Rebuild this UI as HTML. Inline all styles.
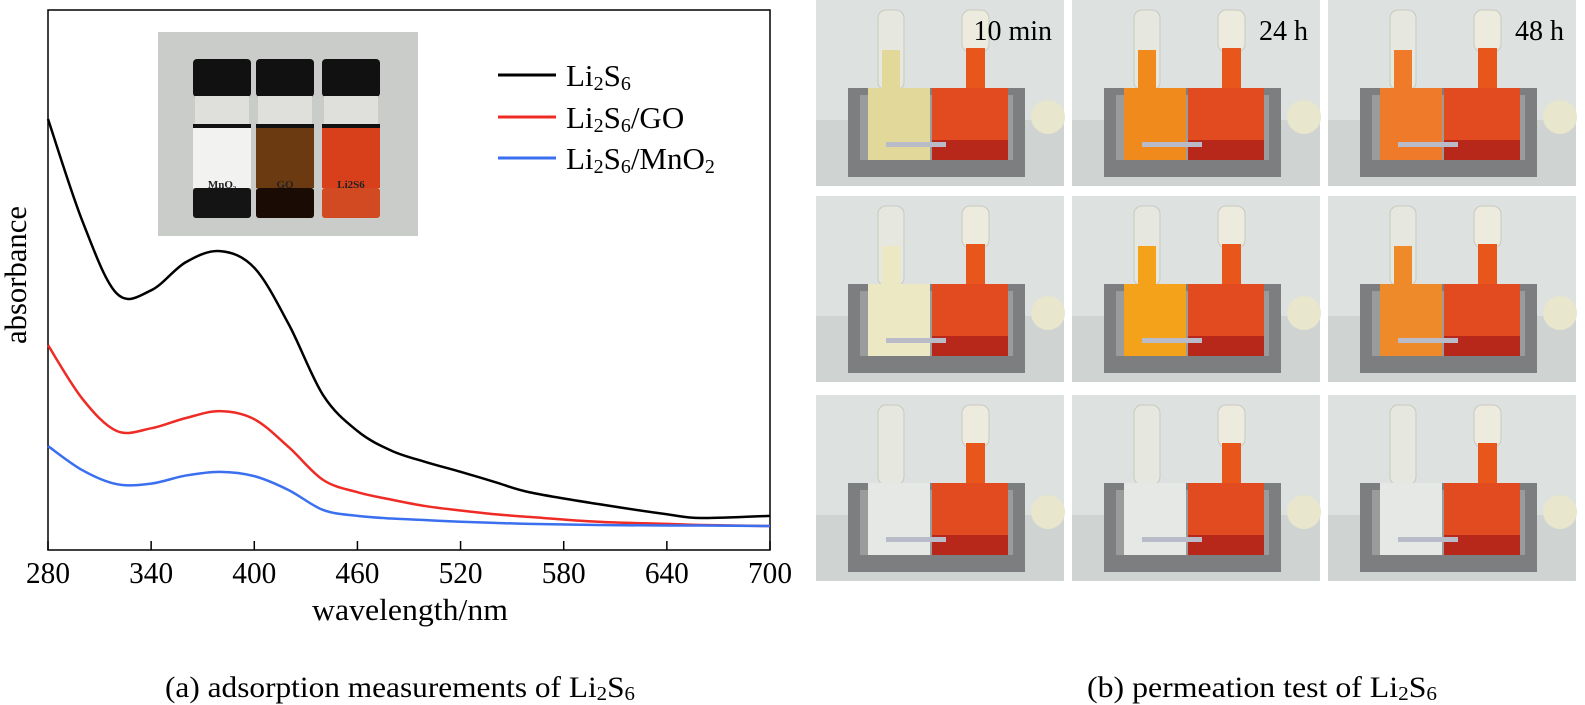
<!DOCTYPE html>
<html><head><meta charset="utf-8"><style>
html,body{margin:0;padding:0;background:#fff;}
svg{display:block;font-family:"Liberation Serif",serif;}
</style></head><body>
<svg id="root" width="1585" height="705" viewBox="0 0 1585 705" xmlns="http://www.w3.org/2000/svg">
  <g id="chart"></g>
  <g id="photos"></g>
  <text x="400" y="697" font-size="30" text-anchor="middle" textLength="470" lengthAdjust="spacingAndGlyphs">(a) adsorption measurements of Li<tspan font-size="20" dy="3">2</tspan><tspan dy="-3">S</tspan><tspan font-size="20" dy="3">6</tspan></text>
  <text x="1262" y="697" font-size="30" text-anchor="middle" textLength="350" lengthAdjust="spacingAndGlyphs">(b) permeation test of Li<tspan font-size="20" dy="3">2</tspan><tspan dy="-3">S</tspan><tspan font-size="20" dy="3">6</tspan></text>
</svg>
<script>
const wavelengths=[280,300,320,340,360,380,400,420,440,460,480,500,520,540,560,600,640,660,700];
const blackVals=[0.797,0.607,0.472,0.478,0.530,0.551,0.520,0.415,0.283,0.216,0.179,0.158,0.140,0.121,0.102,0.080,0.061,0.054,0.058];
const redVals=[0.376,0.276,0.216,0.221,0.240,0.253,0.238,0.186,0.125,0.102,0.088,0.076,0.068,0.061,0.056,0.047,0.043,0.041,0.039];
const blueVals=[0.188,0.143,0.117,0.118,0.133,0.140,0.132,0.106,0.069,0.058,0.053,0.050,0.047,0.045,0.043,0.041,0.040,0.040,0.039];
const xTicks=[280,340,400,460,520,580,640,700];
const seriesNames=["Li2S6","Li2S6/GO","Li2S6/MnO2"];
const NS="http://www.w3.org/2000/svg";
const X0=48,X1=770,Ytop=10,Ybot=550;
function xs(w){return X0+(w-280)/420*(X1-X0);}
function ys(v){return 547-v*537;}
function mk(tag,attrs,parent){const e=document.createElementNS(NS,tag);for(const k in attrs)e.setAttribute(k,attrs[k]);parent.appendChild(e);return e;}
const chart=document.getElementById('chart');
const fr=mk('rect',{x:X0,y:Ytop,width:X1-X0,height:Ybot-Ytop,fill:'none',stroke:'#000','stroke-width':1.5},chart);


xTicks.forEach(t=>{
  const l=mk('line',{x1:xs(t),x2:xs(t),y1:Ybot,y2:Ybot-9,stroke:'#000','stroke-width':1.5},chart);
  
  
  const tx=mk('text',{x:xs(t),y:583,'font-size':31,'text-anchor':'middle',textLength:44,lengthAdjust:'spacingAndGlyphs'},chart);
  tx.textContent=t;
  
  
});
const xt=mk('text',{x:410,y:620,'font-size':31,'text-anchor':'middle',textLength:196,lengthAdjust:'spacingAndGlyphs'},chart);
xt.textContent='wavelength/nm';


const yt=mk('text',{x:0,y:0,'font-size':31,'text-anchor':'middle',transform:'translate(26,275) rotate(-90)',textLength:138,lengthAdjust:'spacingAndGlyphs'},chart);
yt.textContent='absorbance';


const inset=mk('g',{},chart);


mk('rect',{x:158,y:32,width:260,height:204,fill:'#c9ccc9'},inset);
const vials=[[193,'#f2f2f0','#141414','MnO₂'],[256,'#6b3a10','#1a0c05','GO'],[322,'#d8401c','#d24a22','Li2S6']];
vials.forEach(v=>{
  const [x,liq,bot,lab]=v;
  mk('rect',{x:x,y:59,width:58,height:38,rx:4,fill:'#111'},inset);
  mk('rect',{x:x+2,y:96,width:54,height:30,fill:'#dfe0dc'},inset);
  mk('rect',{x:x,y:124,width:58,height:4,fill:'#111'},inset);
  mk('rect',{x:x,y:128,width:58,height:60,fill:liq},inset);
  mk('rect',{x:x,y:188,width:58,height:30,rx:3,fill:bot},inset);
  const t=mk('text',{x:x+29,y:188,'font-size':11,'font-weight':'bold','text-anchor':'middle',fill:'#222'},inset);
  t.textContent=lab;
});
function pathFrom(vals){
  const p=wavelengths.map((w,i)=>[xs(w),ys(vals[i])]);
  let d='M'+p[0][0]+','+p[0][1];
  for(let i=0;i<p.length-1;i++){
    const p0=p[i-1]||p[i],p1=p[i],p2=p[i+1],p3=p[i+2]||p2;
    const c1=[p1[0]+(p2[0]-p0[0])/6,p1[1]+(p2[1]-p0[1])/6];
    const c2=[p2[0]-(p3[0]-p1[0])/6,p2[1]-(p3[1]-p1[1])/6];
    d+=' C'+c1[0]+','+c1[1]+' '+c2[0]+','+c2[1]+' '+p2[0]+','+p2[1];
  }
  return d;
}
const cols=['#000000','#ee2b24','#3a6ff0'];
const sets=[blackVals,redVals,blueVals];
const sNames=['series-li2s6','series-li2s6-go','series-li2s6-mno2'];
sets.forEach((vals,i)=>{
  const pth=mk('path',{d:pathFrom(vals),fill:'none',stroke:cols[i],'stroke-width':2.5},chart);
  
  
});
const legY=[75,117,158];
const legLabels=[['Li','2','S','6',''],['Li','2','S','6','/GO'],['Li','2','S','6','/MnO','2']];
legY.forEach((y,i)=>{
  const g=mk('g',{},chart);
  
  
  mk('line',{x1:498,x2:556,y1:y,y2:y,stroke:cols[i],'stroke-width':3},g);
  const t=mk('text',{x:566,y:y+11,'font-size':31},g);
  const L=legLabels[i];
  let h='Li<tspan font-size="20" dy="4">2</tspan><tspan dy="-4">S</tspan><tspan font-size="20" dy="4">6</tspan><tspan dy="-4">'+L[4]+'</tspan>';
  if(L[5])h+='<tspan font-size="20" dy="4">2</tspan>';
  t.innerHTML=h;
});
const photos=document.getElementById('photos');
const colX=[816,1072,1328],rowY=[0,196,395],CW=248,CH=186;
const leftColors=[['#e2d89a','#f08a1c','#ee7a2a'],['#ece8c4','#f3a21a','#ee8a2a'],['#e6e8e6','#e6e8e6','#e6e8e6']];
const timeLabels=['10 min','24 h','48 h'];
rowY.forEach((ry,r)=>{colX.forEach((cx,c)=>{
  const g=mk('g',{transform:'translate('+cx+','+ry+')'},photos);
  
  
  mk('rect',{x:0,y:0,width:CW,height:CH,fill:'#dde2e1'},g);
  mk('rect',{x:0,y:120,width:CW,height:66,fill:'#cfd3d2'},g);
  const lc=leftColors[r][c];
  mk('ellipse',{cx:232,cy:117,rx:17,ry:17,fill:'#e8e6cc'},g);
  mk('rect',{x:32,y:88,width:177,height:89,fill:'#7c7e80'},g);
  mk('rect',{x:44,y:95,width:153,height:65,fill:'#9a9c9c'},g);
  mk('rect',{x:62,y:10,width:26,height:80,rx:8,fill:'#e6e8e0',stroke:'#c8c8c0'},g);
  mk('rect',{x:146,y:10,width:27,height:42,rx:8,fill:'#ecebdd',stroke:'#c8c8c0'},g);
  mk('rect',{x:150,y:48,width:19,height:45,fill:'#e9561c'},g);
  if(r<2) mk('rect',{x:66,y:50,width:18,height:42,fill:lc},g);
  mk('rect',{x:52,y:88,width:62,height:72,fill:lc},g);
  mk('rect',{x:116,y:88,width:76,height:72,fill:'#e24a20'},g);
  mk('rect',{x:116,y:140,width:76,height:20,fill:'#b8281a'},g);
  mk('rect',{x:70,y:142,width:60,height:5,fill:'#b9bcc8'},g);
  if(r===0){
    const t=mk('text',{x:CW-12,y:40,'font-size':28,'text-anchor':'end'},g);
    t.textContent=timeLabels[c];
    
    
  }
});});
</script>
</body></html>
